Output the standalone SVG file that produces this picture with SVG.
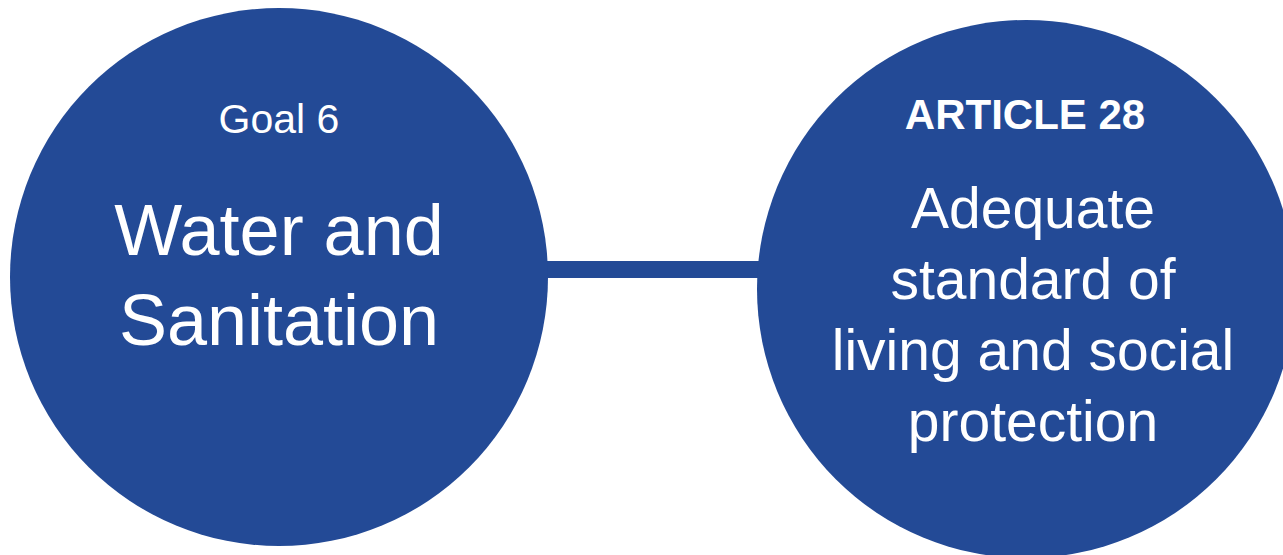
<svg xmlns="http://www.w3.org/2000/svg" width="1283" height="555" viewBox="0 0 1283 555">
  <style>
    .node { fill: #234a96; }
    .t { fill: #ffffff; font-family: "Liberation Sans", Arial, sans-serif; text-anchor: middle; }
    .small { font-size: 41px; }
    .big { font-size: 72px; }
    .mid { font-size: 57px; }
    .bold { font-weight: bold; font-size: 42px; }
    .conn { stroke: #234a96; stroke-width: 17; fill: none; }
  </style>
  <rect width="1283" height="555" fill="#ffffff"/>
  <g id="connectors">
    <line class="conn" x1="540" y1="269.5" x2="765" y2="269.5"/>
  </g>
  <g id="goal6">
    <circle class="node" cx="279" cy="277" r="269"/>
    <text class="t small" x="279" y="133">Goal 6</text>
    <text class="t big" x="279" y="255">Water and</text>
    <text class="t big" x="279" y="345">Sanitation</text>
  </g>
  <g id="article28">
    <circle class="node" cx="1026" cy="289" r="269"/>
    <text class="t bold" x="1025" y="129">ARTICLE 28</text>
    <text class="t mid" x="1033" y="228">Adequate</text>
    <text class="t mid" x="1033" y="299">standard of</text>
    <text class="t mid" x="1033" y="370">living and social</text>
    <text class="t mid" x="1033" y="441">protection</text>
  </g>
</svg>
